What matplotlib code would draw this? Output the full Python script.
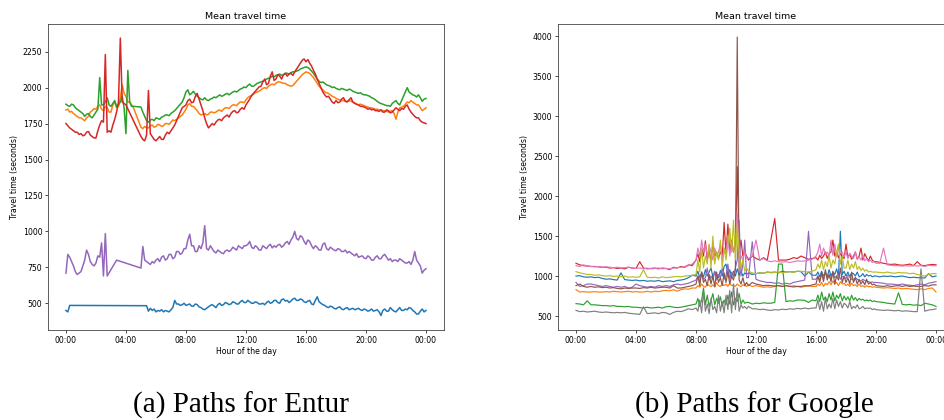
import numpy as np
import matplotlib
matplotlib.use("Agg")
import matplotlib.pyplot as plt
from matplotlib.ticker import MultipleLocator, FixedLocator

N = None

# ---- Entur paths: mean travel time (s), one sample every 7.5 minutes ----
entur_hours = np.arange(0, 24.01, 0.125)

entur_1 = [450, 440, 485, N, N, N, N, N, N, N, N, N, N, N, N, N,
           N, N, N, N, N, N, N, N, N, N, N, N, N, N, N, N,
           N, N, N, N, N, N, N, N, N, N, N, 483, 445, 465, 450, 460,
           440, 450, 445, 455, 440, 450, 445, 440, 455, 470, 520, 495, 495, 485, 490, 500,
           485, 490, 495, 480, 480, 495, 490, 475, 470, 460, 455, 465, 475, 485, 490, 480,
           470, 490, 500, 485, 490, 505, 500, 490, 495, 510, 505, 495, 495, 510, 520, 505,
           505, 520, 510, 500, 500, 510, 505, 495, 495, 500, 490, 505, 515, 500, 505, 520,
           520, 505, 500, 525, 530, 515, 520, 505, 515, 530, 535, 520, 520, 530, 525, 510,
           505, 515, 520, 495, 490, 520, 545, 510, 500, 490, 485, 475, 470, 480, 475, 465,
           460, 470, 475, 460, 455, 465, 470, 455, 460, 465, 455, 460, 465, 455, 450, 460,
           455, 445, 450, 460, 445, 450, 455, 440, 415, 450, 460, 445, 445, 470, 455, 445,
           440, 455, 470, 450, 450, 460, 455, 470, 465, 450, 440, 425, 425, 445, 460, 440,
           450]
entur_2 = [1845, 1850, 1830, 1835, 1820, 1810, 1800, 1790, 1790, 1780, 1770, 1790, 1800, 1830, 1840, 1855,
           1850, 1870, 1880, 1850, 1840, 1870, 1860, 1830, 1830, 1880, 1900, 1860, 1870, 1930, 2020, 1960,
           1940, 1900, 1900, 1880, 1860, N, N, N, 1725, 1715, 1730, 1720, 1720, 1735, 1740, 1725,
           1730, 1745, 1740, 1730, 1735, 1750, 1750, 1745, 1760, 1775, 1770, 1780, 1790, 1800, 1810, 1830,
           1850, 1880, 1890, 1870, 1870, 1855, 1840, 1820, 1810, 1815, 1820, 1810, 1815, 1830, 1830, 1825,
           1830, 1840, 1845, 1835, 1850, 1860, 1860, 1855, 1870, 1880, 1880, 1875, 1890, 1900, 1900, 1895,
           1915, 1930, 1940, 1945, 1955, 1965, 1970, 1975, 1985, 1995, 2000, 1995, 2010, 2020, 2025, 2020,
           2030, 2040, 2040, 2035, 2030, 2030, 2020, 2015, 2010, 2015, 2030, 2045, 2060, 2075, 2090, 2100,
           2110, 2105, 2100, 2085, 2070, 2050, 2030, 2010, 1995, 1985, 1970, 1965, 1960, 1950, 1940, 1935,
           1925, 1920, 1915, 1910, 1910, 1905, 1905, 1910, 1905, 1900, 1895, 1885, 1880, 1885, 1880, 1875,
           1870, 1865, 1860, 1860, 1855, 1850, 1850, 1845, 1845, 1840, 1840, 1835, 1830, 1835, 1840, 1820,
           1780, 1830, 1860, 1865, 1870, 1885, 1900, 1895, 1910, 1900, 1890, 1880, 1880, 1860, 1840, 1850,
           1860]
entur_3 = [1885, 1875, 1870, 1885, 1880, 1860, 1850, 1840, 1830, 1820, 1800, 1815, 1820, 1800, 1790, 1810,
           1830, 1850, 2070, 1880, 1880, 1900, 1930, 1880, 1870, 1890, 1910, 1870, 1880, 1900, 1940, 1860,
           1680, 2120, 1900, 1870, 1870, N, N, N, 1865, 1830, 1800, 1770, 1760, 1775, 1780, 1770,
           1790, 1785, 1780, 1795, 1800, 1810, 1810, 1805, 1820, 1830, 1840, 1855, 1870, 1885, 1900, 1930,
           1970, 1985, 1950, 1960, 1975, 1955, 1940, 1930, 1920, 1915, 1930, 1915, 1910, 1920, 1925, 1935,
           1930, 1940, 1950, 1940, 1945, 1955, 1960, 1950, 1960, 1970, 1975, 1970, 1980, 1990, 1995, 2005,
           2000, 2015, 2025, 2010, 2010, 2020, 2030, 2035, 2040, 2045, 2050, 2060, 2065, 2070, 2080, 2075,
           2085, 2090, 2095, 2085, 2090, 2100, 2100, 2095, 2105, 2110, 2110, 2115, 2120, 2130, 2135, 2140,
           2145, 2140, 2130, 2115, 2100, 2080, 2060, 2045, 2035, 2040, 2030, 2020, 2015, 2010, 2000, 2005,
           1995, 1990, 1985, 1995, 1990, 1985, 1980, 1990, 1985, 1975, 1970, 1965, 1960, 1965, 1955, 1950,
           1950, 1945, 1940, 1930, 1925, 1915, 1905, 1895, 1890, 1885, 1880, 1875, 1875, 1870, 1890, 1900,
           1910, 1890, 1880, 1910, 1940, 1970, 2000, 1970, 1960, 1950, 1945, 1935, 1950, 1930, 1905, 1920,
           1925]
entur_4 = [1750, 1735, 1720, 1710, 1700, 1690, 1690, 1675, 1680, 1665, 1670, 1690, 1695, 1670, 1660, 1650,
           1650, 1700, 1740, 1770, 1760, 2230, 1690, 1700, 1690, 1740, 1780, 1830, 1900, 2345, 1900, 1890,
           1880, N, N, N, N, N, N, N, 1660, 1640, 1630, 1670, 1980, 1680, 1660, 1640,
           1630, 1645, 1660, 1640, 1640, 1670, 1690, 1680, 1700, 1720, 1740, 1770, 1800, 1830, 1860, 1870,
           1880, 1910, 1920, 1895, 1900, 1940, 1960, 1920, 1880, 1840, 1790, 1750, 1720, 1735, 1750, 1740,
           1760, 1775, 1780, 1770, 1790, 1800, 1810, 1795, 1820, 1835, 1840, 1825, 1830, 1850, 1860, 1850,
           1880, 1900, 1920, 1945, 1960, 1975, 1990, 2005, 2010, 2040, 2060, 2020, 2030, 2080, 2110, 2050,
           2060, 2090, 2080, 2060, 2090, 2100, 2080, 2095, 2100, 2085, 2110, 2130, 2150, 2170, 2190, 2200,
           2180, 2195, 2170, 2150, 2120, 2095, 2060, 2030, 2000, 1970, 1950, 1935, 1940, 1920, 1900, 1890,
           1910, 1895, 1900, 1920, 1930, 1905, 1900, 1915, 1930, 1900, 1890, 1885, 1880, 1870, 1870, 1865,
           1860, 1850, 1855, 1845, 1850, 1840, 1840, 1835, 1845, 1830, 1830, 1845, 1840, 1825, 1830, 1845,
           1860, 1850, 1840, 1855, 1850, 1870, 1880, 1850, 1830, 1815, 1800, 1790, 1790, 1770, 1760, 1755,
           1750]
entur_5 = [710, 840, 820, 790, 760, 720, 700, 710, 720, 760, 800, 870, 840, 790, 770, 760,
           780, 830, 820, 920, 690, 985, 690, N, N, N, N, 800, N, N, N, N,
           N, N, N, N, N, N, N, N, 745, 895, 800, 790, 780, 770, 790, 780,
           800, 810, 790, 820, 830, 800, 810, 840, 840, 810, 820, 860, 860, 840, 850, 880,
           880, 940, 980, 900, 900, 860, 860, 900, 880, 920, 1040, 880, 870, 900, 880, 860,
           850, 870, 860, 850, 845, 865, 870, 860, 870, 890, 880, 870, 900, 890, 880, 900,
           900, 910, 930, 890, 880, 900, 890, 870, 870, 900, 890, 880, 900, 910, 885, 900,
           890, 905, 910, 890, 900, 920, 930, 910, 940, 960, 1000, 950, 940, 970, 960, 930,
           910, 940, 930, 900, 880, 900, 890, 870, 870, 910, 920, 880, 870, 890, 880, 870,
           865, 880, 875, 860, 860, 870, 850, 860, 850, 840, 830, 845, 820, 825, 830, 815,
           810, 830, 820, 800, 800, 820, 830, 810, 810, 830, 840, 820, 800, 810, 790, 800,
           800, 790, 810, 800, 790, 780, 780, 790, 770, 800, 860, 800, 780, 760, 710, 730,
           740]

# ---- Google paths: 15 min samples, 7.5 min in the two rush windows ----
google_hours = np.concatenate([np.arange(0, 8, 0.25), np.arange(8, 11.5, 0.125),
                               np.arange(11.5, 16, 0.25), np.arange(16, 20, 0.125),
                               np.arange(20, 24.01, 0.25)])

google_1 = [1000, 1005, 990, 985, 990, 980, 985, 970, 960, 965, 955, 950, 1040, 955, 950, 945,
            950, 940, 945, 935, 940, 935, 945, 930, 935, 940, 930, 945, 950, 960, 980, 1010,
            1000, 1060, 980, 1040, 990, 1080, 1000, 1050, 1100, 990, 1060, 1010, 980, 1070,
            1000, 1120, 1150, 1020, 1080, 990, 1060, 1000, 1090, 1010, 1060, 1000, 1040, 1020,
            1040, 1020, 1030, 1040, 1035, 1050, 1045, 1050, 1040, 1060, 1050, 1055, 1050, 1060,
            1055, 1000, 1050, 1010,
            1010, 1050, 990, 1060, 1000, 1040, 990, 1080, 1000, 1050, 1020, 1090, 1000, 1560,
            1020, 1060, 1000, 1050, 990, 1040, 1030, 1000, 1050, 990, 1000, 1030, 990, 1020,
            1000, 1010, 990, 1000,
            1000, 990, 1000, 995, 1000, 990, 995, 1000, 990, 980, 985, 980, 980, 975, 1030, 990,
            1000]
google_2 = [830, 800, 805, 800, 800, 805, 800, 800, 805, 800, 810, 805, 800, 805, 810, 800,
            805, 800, 800, 810, 800, 810, 805, 815, 820, 815, 830, 810, 830, 840, 835, 850,
            850, 880, 860, 900, 870, 860, 900, 880, 870, 890, 860, 920, 880, 870,
            900, 880, 900, 870, 910, 880, 890, 870, 900, 880, 870, 890, 880, 870,
            890, 870, 880, 870, 860, 865, 860, 870, 880, 870, 880, 870, 860, 870,
            860, 870, 880, 870,
            870, 900, 880, 920, 870, 910, 890, 930, 890, 940, 900, 920, 880, 930,
            900, 910, 880, 900, 870, 910, 880, 890, 870, 900, 870, 880, 860, 880,
            865, 870, 860, 865,
            860, 855, 850, 855, 850, 845, 850, 840, 845, 840, 835, 830, 840, 830, 845, 850,
            800]
google_3 = [655, 650, 640, 690, 640, 640, 635, 630, 630, 625, 630, 620, 620, 615, 620, 610,
            610, 605, 600, 610, 600, 605, 610, 600, 615, 620, 610, 605, 610, 620, 630, 640,
            650, 720, 620, 700, 850, 640, 760, 620, 700, 780, 640, 720, 660, 740,
            620, 700, 640, 760, 650, 800, 640, 720, 680, 780, 650, 700, 660, 670,
            670, 650, 660, 655, 665, 660, 660, 670, 1150, 1150, 680, 690, 685, 700,
            700, 695, 670, 700,
            690, 760, 680, 800, 700, 740, 680, 780, 700, 800, 690, 760, 720, 780,
            690, 750, 700, 740, 690, 760, 700, 730, 690, 720, 700, 710, 690, 700,
            690, 700, 680, 690,
            680, 675, 670, 660, 655, 650, 790, 645, 640, 645, 635, 640, 630, 660, 650, 640,
            620]
google_4 = [1160, 1140, 1130, 1125, 1120, 1120, 1115, 1110, 1110, 1100, 1105, 1095, 1100, 1090, 1110, 1100,
            1095, 1180, 1100, 1090, 1095, 1100, 1090, 1100, 1095, 1080, 1110, 1100, 1120, 1110, 1140, 1130,
            1200, 1280, 1180, 1350, 1250, 1440, 1200, 1320, 1180, 1420, 1250, 1300, 1220, 1300,
            1250, 1670, 1280, 1650, 1300, 1450, 1300, 1400, 2370, 1300, 1450, 1250, 1300, 1250,
            1200, 1250, 1220, 1200, 1230, 1200, 1460, 1720, 1200, 1200, 1200, 1210, 1230, 1220,
            1250, 1230, 1210, 1220,
            1230, 1200, 1260, 1220, 1250, 1300, 1220, 1280, 1300, 1450, 1250, 1300, 1230, 1280,
            1250, 1220, 1400, 1230, 1280, 1210, 1250, 1300, 1210, 1250, 1350, 1200, 1280, 1230,
            1190, 1250, 1200, 1180,
            1180, 1170, 1160, 1150, 1145, 1150, 1140, 1135, 1140, 1150, 1130, 1180, 1135, 1130, 1140, 1145,
            1140]
google_5 = [920, 870, 880, 900, 900, 890, 880, 870, 880, 870, 860, 870, 860, 870, 850, 860,
            900, 880, 870, 860, 870, 860, 880, 870, 880, 870, 890, 900, 890, 900, 910, 930,
            950, 1000, 930, 1050, 960, 980, 1100, 950, 1000, 960, 1050, 950, 1020, 980,
            1100, 960, 1000, 1150, 960, 1050, 1000, 1100, 1200, 1700, 1000, 1150, 1450, 980,
            980, 1430, 960, 940, 930, 920, 920, 910, 915, 900, 910, 900, 920, 930,
            940, 950, 1560, 960,
            960, 1000, 950, 1020, 960, 1050, 980, 1010, 960, 1040, 980, 1000, 1020, 960,
            1000, 980, 970, 1010, 990, 960, 950, 980, 960, 940, 940, 960, 945, 930,
            930, 920, 925, 920,
            920, 915, 910, 900, 900, 895, 890, 900, 890, 885, 880, 890, 900, 890, 910, 920,
            930]
google_6 = [880, 900, 870, 860, 870, 860, 865, 855, 860, 850, 855, 845, 840, 850, 845, 850,
            850, 845, 855, 850, 860, 850, 855, 860, 860, 850, 880, 850, 850, 860, 870, 880,
            900, 1000, 880, 1050, 920, 960, 880, 1020, 900, 1000, 870, 1050, 920, 980,
            880, 1040, 920, 1050, 900, 1000, 950, 1080, 3990, 950, 900, 980, 880, 920,
            880, 920, 900, 890, 880, 885, 880, 875, 880, 870, 880, 870, 875, 870,
            870, 880, 875, 890,
            900, 1000, 920, 1050, 930, 1080, 950, 1020, 930, 1060, 900, 1000, 950, 1100,
            920, 1000, 920, 980, 900, 1050, 920, 980, 900, 960, 900, 940, 890, 960,
            900, 920, 890, 900,
            880, 875, 870, 880, 870, 875, 880, 870, 880, 870, 875, 870, 870, 880, 875, 890,
            890]
google_7 = [1130, 1120, 1140, 1125, 1120, 1115, 1120, 1110, 1115, 1110, 1105, 1110, 1100, 1105, 1110, 1100,
            1095, 1100, 1090, 1100, 1090, 1095, 1100, 1090, 1095, 1090, 1100, 1105, 1110, 1120, 1130, 1150,
            1200, 1350, 1250, 1450, 1300, 1400, 1250, 1380, 1300, 1200, 1350, 1250, 1300, 1400,
            1200, 1350, 1300, 1500, 1250, 1400, 1300, 1450, 1790, 1300, 1250, 1200, 1300, 1220,
            1220, 1250, 1450, 1200, 1220, 1190, 1180, 1190, 1180, 1175, 1180, 1170, 1180, 1190,
            1185, 1190, 1200, 1210,
            1250, 1300, 1400, 1250, 1350, 1280, 1300, 1250, 1450, 1260, 1400, 1240, 1350, 1280,
            1300, 1240, 1300, 1220, 1280, 1250, 1220, 1300, 1210, 1240, 1200, 1260, 1190, 1220,
            1180, 1200, 1170, 1180,
            1160, 1160, 1350, 1140, 1135, 1130, 1130, 1125, 1130, 1125, 1130, 1125, 1130, 1120, 1135, 1130,
            1130]
google_8 = [570, 555, 560, 550, 555, 560, 550, 545, 550, 545, 540, 545, 540, 545, 535, 530,
            525, 520, 615, 530, 535, 540, 530, 545, 540, 520, 545, 560, 555, 570, 590, 580,
            600, 560, 700, 540, 800, 560, 650, 530, 720, 580, 620, 540, 760, 560,
            680, 540, 760, 580, 820, 540, 900, 580, 850, 560, 640, 600, 620, 590,
            620, 590, 590, 580, 585, 575, 570, 580, 575, 585, 580, 590, 585, 595,
            590, 600, 590, 600,
            600, 700, 580, 680, 560, 720, 590, 650, 600, 720, 590, 700, 620, 680,
            600, 660, 640, 600, 680, 590, 620, 600, 640, 590, 600, 620, 590, 600,
            595, 600, 580, 590,
            580, 575, 570, 575, 570, 565, 570, 560, 565, 560, 555, 555, 1090, 560, 575, 580,
            590]
google_9 = [1055, 1040, 1030, 1020, 1020, 1010, 1015, 1005, 1000, 1005, 995, 1000, 990, 1000, 985, 990,
            985, 990, 1080, 985, 980, 985, 975, 990, 980, 985, 990, 995, 990, 1000, 1005, 1010,
            1020, 1200, 1050, 1350, 1100, 1250, 1150, 1400, 1100, 1500, 1150, 1300, 1200, 1450,
            1100, 1350, 1200, 1400, 1600, 1300, 1700, 1200, 1650, 1300, 1100, 1200, 1060, 1100,
            1060, 1040, 1030, 1040, 1035, 1050, 1040, 1045, 1050, 1040, 1050, 1055, 1045, 1060,
            1060, 1055, 1050, 1060,
            1080, 1150, 1100, 1200, 1080, 1180, 1120, 1250, 1100, 1200, 1150, 1300, 1400, 1150,
            1250, 1100, 1100, 1200, 1080, 1150, 1100, 1180, 1080, 1120, 1070, 1100, 1060, 1080,
            1050, 1060, 1050, 1050,
            1050, 1045, 1040, 1050, 1040, 1035, 1045, 1040, 1040, 1030, 1035, 1020, 1010, 1000, 1020, 1030,
            1030]

entur_paths = [entur_1, entur_2, entur_3, entur_4, entur_5]
google_paths = [google_1, google_2, google_3, google_4, google_5,
                google_6, google_7, google_8, google_9]

hour_ticks = [0, 4, 8, 12, 16, 20, 24]
hour_labels = ["00:00", "04:00", "08:00", "12:00", "16:00", "20:00", "00:00"]
captions = ["(a) Paths for Entur", "(b) Paths for Google"]

fig = plt.figure(figsize=(9.44, 4.2), dpi=100)
ax1 = fig.add_axes([0.0508, 0.2143, 0.4195, 0.7286])
ax2 = fig.add_axes([0.5911, 0.2143, 0.4195, 0.7286])


def draw(ax, hrs, paths, ylim, ystep, lw):
    for i, vals in enumerate(paths):
        v = np.array(vals, dtype=float)
        ok = ~np.isnan(v)
        ax.plot(hrs[ok], v[ok], color="C%d" % i, lw=lw)
    ax.set_xlim(-1.2, 25.2)
    ax.set_ylim(*ylim)
    ax.xaxis.set_major_locator(FixedLocator(hour_ticks))
    ax.set_xticklabels(hour_labels)
    ax.yaxis.set_major_locator(MultipleLocator(ystep))
    ax.tick_params(labelsize=5.6, length=2, width=0.5, pad=2)
    for sp in ax.spines.values():
        sp.set_linewidth(0.6)
        sp.set_color("#444444")
    ax.set_title("Mean travel time", fontsize=6.8, pad=3.5)
    ax.set_xlabel("Hour of the day", fontsize=5.6, labelpad=1.5)
    ax.set_ylabel("Travel time (seconds)", fontsize=5.6, labelpad=3)


draw(ax1, entur_hours, entur_paths, (314, 2443), 250, 1.1)
draw(ax2, google_hours, google_paths, (325, 4154), 500, 0.85)

fig.text(0.2553, 0.036, captions[0], ha="center", va="center",
         family="Liberation Serif", fontsize=21)
fig.text(0.7987, 0.036, captions[1], ha="center", va="center",
         family="Liberation Serif", fontsize=21)

fig.savefig("out.png", dpi=100)
